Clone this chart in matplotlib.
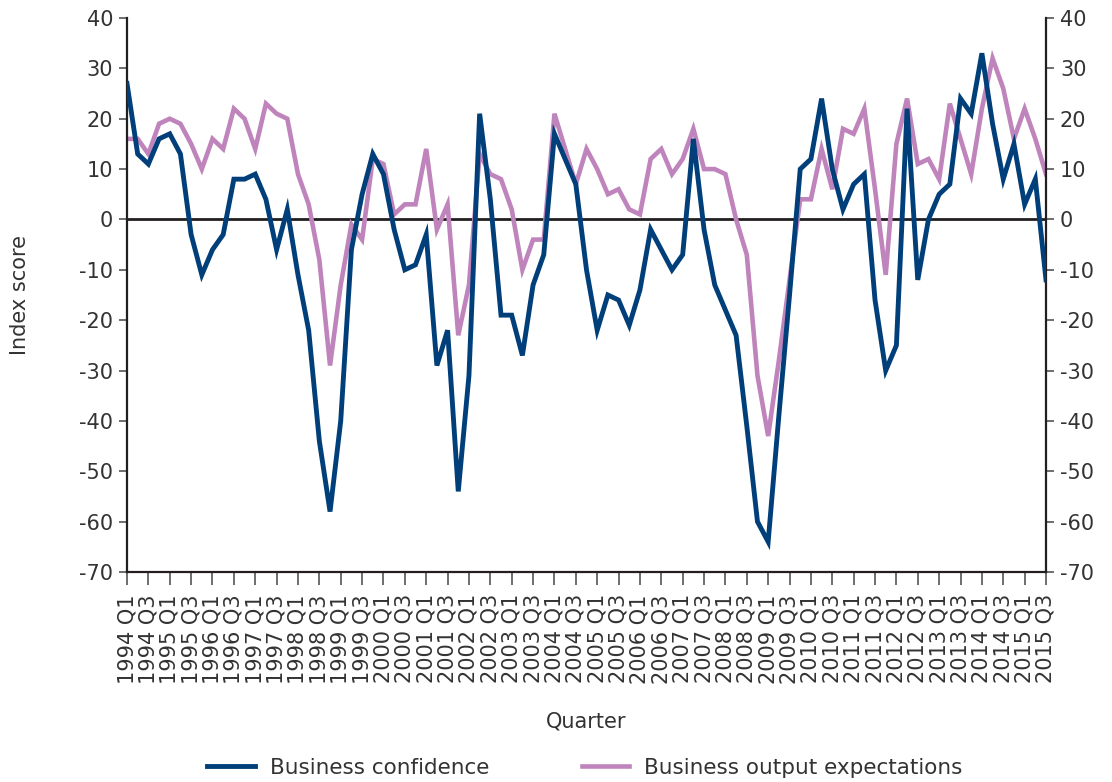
import matplotlib
matplotlib.use("Agg")
import matplotlib.pyplot as plt

# Quarters 1994 Q1 .. 2015 Q3
years = list(range(1994, 2016))
quarters = [f"{y} Q{q}" for y in years for q in (1, 2, 3, 4)][:87]

business_confidence = [
    27, 13, 11, 16, 17, 13, -3, -11, -6, -3, 8, 8, 9, 4, -6, 2,
    -11, -22, -44, -58, -40, -6, 5, 13, 9, -2, -10, -9, -3, -29, -22, -54,
    -31, 21, 4, -19, -19, -27, -13, -7, 17, 12, 7, -10, -22, -15, -16, -21,
    -14, -2, -6, -10, -7, 16, -2, -13, -18, -23, -41, -60, -64, -39, -15, 10,
    12, 24, 10, 2, 7, 9, -16, -30, -25, 22, -12, 0, 5, 7, 24, 21,
    33, 19, 8, 15, 3, 8, -12,
]
output_expectations = [
    16, 16, 13, 19, 20, 19, 15, 10, 16, 14, 22, 20, 14, 23, 21, 20,
    9, 3, -8, -29, -13, -1, -4, 12, 11, 1, 3, 3, 14, -2, 3, -23,
    -13, 13, 9, 8, 2, -10, -4, -4, 21, 14, 7, 14, 10, 5, 6, 2,
    1, 12, 14, 9, 12, 18, 10, 10, 9, 0, -7, -31, -43, -28, -12, 4,
    4, 14, 6, 18, 17, 22, 6, -11, 15, 24, 11, 12, 8, 23, 16, 9,
    22, 32, 26, 16, 22, 16, 9,
]
yticks = list(range(-70, 41, 10))

BLUE = "#003f7a"
PINK = "#c084bc"
TEXT = "#333333"
SPINE = "#231f20"

plt.rcParams["font.family"] = ["DejaVu Sans"]
plt.rcParams["axes.unicode_minus"] = False

fig = plt.figure(figsize=(11.12, 7.82), dpi=100)
ax = fig.add_axes([127 / 1112, 1 - 572 / 782, 919 / 1112, 554 / 782])

x = list(range(len(quarters)))
ax.axhline(0, color=SPINE, lw=2.0, zorder=1)
ax.plot(x, output_expectations, color=PINK, lw=3.3, solid_joinstyle="miter",
        label="Business output expectations", zorder=2)
ax.plot(x, business_confidence, color=BLUE, lw=3.5, solid_joinstyle="miter",
        label="Business confidence", zorder=3)

ax.set_xlim(0, len(quarters) - 1)
ax.set_ylim(-70, 40)
ax.set_yticks(yticks)
ax.set_xticks(x[::2])
ax.set_xticklabels(quarters[::2], rotation=90, fontsize=15, color=TEXT)

ax.tick_params(axis="y", direction="out", length=6, width=1.2, color="#555555",
               labelsize=15, labelcolor=TEXT, pad=4, left=True, right=True,
               labelleft=True, labelright=True)
ax.tick_params(axis="x", direction="out", length=9, width=1.2, color="#555555",
               pad=7)

ax.spines["top"].set_visible(False)
for side in ("left", "right", "bottom"):
    ax.spines[side].set_color(SPINE)
    ax.spines[side].set_linewidth(1.6)

fig.text(20 / 1112, 1 - 295 / 782, "Index score", rotation=90, ha="center",
         va="center", fontsize=15, color=TEXT)
fig.text(586 / 1112, 1 - 722 / 782, "Quarter", ha="center", va="center",
         fontsize=15, color=TEXT)

handles, labels = ax.get_legend_handles_labels()
fig.legend(handles[::-1], labels[::-1], loc="center", ncol=2, frameon=False,
           bbox_to_anchor=(585 / 1112, 1 - 768 / 782), fontsize=15.5,
           handlelength=2.2, handletextpad=0.7, columnspacing=4.3,
           labelcolor=TEXT)

fig.savefig("out.png", dpi=100)
